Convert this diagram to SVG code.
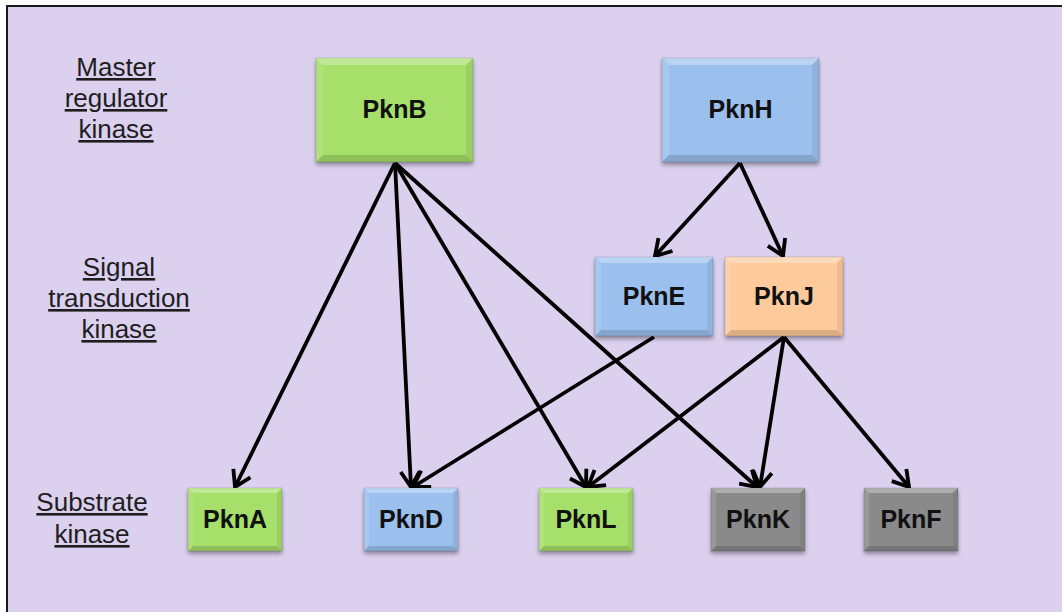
<svg xmlns="http://www.w3.org/2000/svg" xmlns:xlink="http://www.w3.org/1999/xlink" width="1062" height="612" viewBox="0 0 1062 612">
<style>
.lbl{font-family:"Liberation Sans",Arial,sans-serif;font-size:26px;fill:#1e1e1e;text-anchor:middle;text-decoration:underline;}
.nl{font-family:"Liberation Sans",Arial,sans-serif;font-size:25px;font-weight:bold;fill:#111;text-anchor:middle;}
.green{fill:#a6df69;}
.blue{fill:#9cc0ee;}
.orange{fill:#fdcb9b;}
.gray{fill:#8a8a8a;}
.box{filter:url(#ds);stroke:rgba(0,0,0,0.12);stroke-width:1;}
.hl1{fill:#fff;fill-opacity:0.3;}
.hl2{fill:#fff;fill-opacity:0.12;}
.sh1{fill:#000;fill-opacity:0.07;}
.sh2{fill:#000;fill-opacity:0.14;}
.edge{stroke:#000;stroke-width:3.8;fill:none;marker-end:url(#arr);}
</style>
<defs>
<filter id="ds" x="-20%" y="-20%" width="140%" height="150%">
<feDropShadow dx="0" dy="3" stdDeviation="2" flood-color="#000" flood-opacity="0.35"/>
</filter>
<marker id="arr" markerUnits="userSpaceOnUse" viewBox="-20 -13 22 26" refX="0" refY="0" markerWidth="22" markerHeight="26" orient="auto" overflow="visible">
<path d="M-15.5,-9.5 L0,0 L-15.5,9.5" fill="none" stroke="#000" stroke-width="3.8" stroke-linejoin="miter"/>
</marker>
<g id="bev-l">
<polygon class="hl1" points="0,0 157,0 150,7 7,7"/>
<polygon class="hl2" points="0,0 7,7 7,97 0,104"/>
<polygon class="sh1" points="157,0 150,7 150,97 157,104"/>
<polygon class="sh2" points="0,104 157,104 150,97 7,97"/>
</g>
<g id="bev-m">
<polygon class="hl1" points="0,0 118,0 112,6 6,6"/>
<polygon class="hl2" points="0,0 6,6 6,73 0,79"/>
<polygon class="sh1" points="118,0 112,6 112,73 118,79"/>
<polygon class="sh2" points="0,79 118,79 112,73 6,73"/>
</g>
<g id="bev-s">
<polygon class="hl1" points="0,0 94,0 89,5 5,5"/>
<polygon class="hl2" points="0,0 5,5 5,58 0,63"/>
<polygon class="sh1" points="94,0 89,5 89,58 94,63"/>
<polygon class="sh2" points="0,63 94,63 89,58 5,58"/>
</g>
</defs>
<rect x="0" y="0" width="1062" height="612" fill="#fff"/>
<rect x="7" y="6" width="1080" height="630" fill="#dbd0ee" stroke="#1a1a1a" stroke-width="2"/>

<g id="labels">
<text class="lbl" x="116" y="76">Master</text>
<text class="lbl" x="116" y="107">regulator</text>
<text class="lbl" x="116" y="138">kinase</text>
<text class="lbl" x="119" y="276">Signal</text>
<text class="lbl" x="119" y="307">transduction</text>
<text class="lbl" x="119" y="338">kinase</text>
<text class="lbl" x="92" y="511">Substrate</text>
<text class="lbl" x="92" y="543">kinase</text>
</g>

<g id="connectors">
<line class="edge" x1="395" y1="163" x2="235" y2="487"/>
<line class="edge" x1="395" y1="163" x2="411" y2="487"/>
<line class="edge" x1="395" y1="163" x2="586" y2="487"/>
<line class="edge" x1="395" y1="163" x2="757" y2="487"/>
<line class="edge" x1="740" y1="163" x2="655" y2="256"/>
<line class="edge" x1="740" y1="163" x2="783" y2="256"/>
<line class="edge" x1="654" y1="337" x2="413" y2="487"/>
<line class="edge" x1="784" y1="337" x2="588" y2="487"/>
<line class="edge" x1="784" y1="337" x2="760" y2="487"/>
<line class="edge" x1="784" y1="337" x2="909" y2="487"/>
</g>

<g id="PknB" transform="translate(316,58)">
<rect class="box green" width="157" height="104"/><use href="#bev-l"/>
<text class="nl" x="78.5" y="60">PknB</text>
</g>
<g id="PknH" transform="translate(662,58)">
<rect class="box blue" width="157" height="104"/><use href="#bev-l"/>
<text class="nl" x="78.5" y="60">PknH</text>
</g>
<g id="PknE" transform="translate(595,257)">
<rect class="box blue" width="118" height="79"/><use href="#bev-m"/>
<text class="nl" x="59" y="48">PknE</text>
</g>
<g id="PknJ" transform="translate(725,257)">
<rect class="box orange" width="118" height="79"/><use href="#bev-m"/>
<text class="nl" x="59" y="48">PknJ</text>
</g>
<g id="PknA" transform="translate(188,488)">
<rect class="box green" width="94" height="63"/><use href="#bev-s"/>
<text class="nl" x="47" y="40">PknA</text>
</g>
<g id="PknD" transform="translate(364,488)">
<rect class="box blue" width="94" height="63"/><use href="#bev-s"/>
<text class="nl" x="47" y="40">PknD</text>
</g>
<g id="PknL" transform="translate(539,488)">
<rect class="box green" width="94" height="63"/><use href="#bev-s"/>
<text class="nl" x="47" y="40">PknL</text>
</g>
<g id="PknK" transform="translate(711,488)">
<rect class="box gray" width="94" height="63"/><use href="#bev-s"/>
<text class="nl" x="47" y="40">PknK</text>
</g>
<g id="PknF" transform="translate(864,488)">
<rect class="box gray" width="94" height="63"/><use href="#bev-s"/>
<text class="nl" x="47" y="40">PknF</text>
</g>
</svg>
